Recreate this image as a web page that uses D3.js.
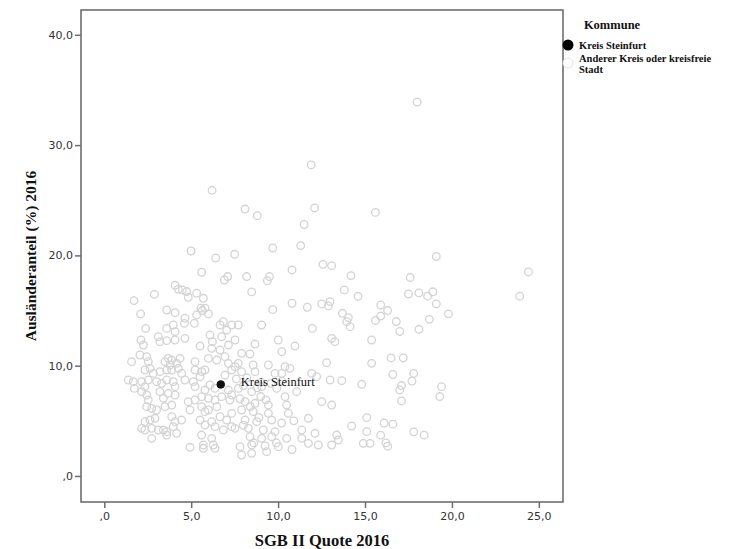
<!DOCTYPE html>
<html><head><meta charset="utf-8">
<script src="https://cdn.jsdelivr.net/npm/d3@7/dist/d3.min.js"></script>
<style>body{margin:0;background:#fff;} svg{display:block;}</style>
</head><body>
<svg id="chart" width="737" height="549"></svg>
<script>
const xTickValues = [0, 5, 10, 15, 20, 25];
const xTickLabels = [",0", "5,0", "10,0", "15,0", "20,0", "25,0"];
const yTickValues = [0, 10, 20, 30, 40];
const yTickLabels = [",0", "10,0", "20,0", "30,0", "40,0"];
const categories = ["Kreis Steinfurt", "Anderer Kreis oder kreisfreie Stadt"];
const steinfurtX = [6.7];
const steinfurtY = [8.3];
const otherX = [
18.0,11.9,6.2,8.1,8.8,12.1,15.6,11.5,
19.1,24.4,17.6,23.9,17.5,18.1,18.6,18.9,19.1,19.8,18.7,18.1,15.9,16.3,15.9,15.6,16.8,17.0,16.5,17.2,16.6,17.8,17.7,17.1,17.0,17.1,19.4,19.3,16.1,16.6,15.9,16.2,16.3,17.8,18.4,
9.69,11.30,10.80,12.58,13.08,14.19,8.19,9.50,9.38,8.48,13.81,14.60,9.69,10.80,11.68,12.51,12.99,12.89,13.70,14.04,
4.99,6.41,7.5,5.60,7.10,6.91,4.07,4.26,4.49,4.74,5.31,4.83,5.70,2.88,1.71,3.59,4.07,5.56,5.79,5.64,5.99,2.09,5.31,4.64,
2.38,3.59,3.97,4.07,4.61,5.18,6.66,6.85,7.04,7.33,
2.11,2.25,3.11,3.20,3.59,4.07,4.64,5.51,6.08,6.22,6.75,6.18,6.66,7.14,7.52,
1.57,2.05,2.44,2.53,3.49,3.68,3.88,3.78,4.16,4.36,5.22,5.99,6.47,6.94,7.14,
2.34,2.63,2.82,3.20,3.59,3.88,4.26,4.45,5.22,5.60,5.51,5.79,6.94,7.33,7.52,
1.38,1.67,1.73,2.15,2.34,2.53,3.01,3.30,3.59,3.97,4.07,4.64,5.12,5.22,5.79,6.08,6.37,7.14,7.33,
2.15,2.44,2.53,3.20,3.40,3.68,4.07,4.83,5.22,5.60,5.99,6.37,6.75,7.23,
2.44,2.73,3.01,3.49,3.88,4.93,5.60,5.79,5.99,6.47,6.66,7.33,5.51,6.18,7.04,
2.34,2.63,2.92,3.88,4.07,3.97,4.45,2.15,2.34,2.73,3.11,3.40,3.59,4.16,5.79,6.37,6.85,7.33,
2.73,3.59,5.60,6.18,6.27,5.70,4.93,5.70,6.37,
7.71,9.05,11.97,13.95,14.14,13.08,13.27,10.97,10.01,10.21,8.67,8.38,7.90,7.71,8.57,9.44,10.40,10.68,12.79,15.38,15.38,
7.90,8.67,9.82,10.21,12.99,13.66,14.81,11.93,12.22,7.71,8.48,9.05,9.92,10.40,11.07,
8.10,8.67,9.44,10.49,12.51,13.08,7.90,8.57,9.44,10.59,11.74,14.23,15.10,8.10,8.77,9.63,
7.52,8.29,9.15,9.82,11.36,12.12,13.37,15.10,8.38,9.05,9.63,10.49,11.36,11.74,12.31,13.08,13.47,14.90,15.29,
7.81,8.48,9.25,10.01,7.90,8.48,9.34,
9.0,9.6,10.2,7.6,8.2,8.0,8.8,7.8,8.4,9.0,9.3,8.9,8.0,8.6,9.9,10.8,10.2,10.9
];
const otherY = [
33.9,28.2,25.9,24.2,23.6,24.3,23.9,22.8,
19.9,18.5,18.0,16.3,16.5,16.6,16.3,16.7,15.6,14.7,14.2,13.3,15.5,15.0,14.5,14.1,14.0,13.1,10.7,10.7,9.2,9.3,8.6,8.2,7.8,6.8,8.1,7.2,4.8,4.7,3.7,3.0,2.7,4.0,3.7,
20.67,20.89,18.68,19.19,19.07,18.17,18.08,18.08,17.71,16.69,16.87,16.29,15.08,15.66,15.30,15.60,15.81,15.42,14.75,14.36,
20.40,19.77,20.1,18.47,18.08,17.77,17.29,16.93,16.87,16.72,16.57,16.20,16.11,16.47,15.90,15.05,14.81,15.21,15.21,15.0,14.69,14.69,14.60,14.30,
13.38,13.38,13.69,13.08,13.84,13.84,13.69,13.99,13.23,13.69,
12.33,11.87,12.63,12.18,12.27,12.33,12.48,11.78,12.78,12.18,12.63,11.57,11.42,11.87,12.33,
10.36,10.97,10.82,10.36,10.36,10.66,10.51,10.06,10.21,10.66,10.36,10.66,10.51,10.82,10.21,
9.61,9.76,9.30,9.46,9.61,9.61,9.76,9.30,9.61,9.46,9.00,9.61,9.15,9.61,9.91,
8.70,8.55,7.94,8.55,8.10,8.70,8.55,8.40,8.70,8.55,8.10,8.70,8.55,8.10,7.79,8.25,7.94,7.79,7.34,
7.64,7.34,6.89,7.64,7.04,7.49,7.34,6.74,6.89,7.19,7.04,6.89,7.19,6.89,
6.28,6.13,5.98,6.28,6.43,5.98,6.28,5.83,5.98,6.28,5.38,5.68,5.07,4.92,5.07,
4.92,5.07,5.23,5.38,4.92,4.47,5.07,4.32,4.17,4.32,4.17,4.17,4.02,3.87,4.62,4.47,4.17,4.47,
3.41,3.71,3.71,3.41,2.81,2.81,2.60,2.51,2.51,
13.69,13.69,13.38,13.99,13.54,12.48,12.18,11.78,12.33,11.27,11.96,11.06,11.12,10.21,10.06,10.06,9.91,9.76,10.27,12.33,10.21,
9.46,9.46,9.30,9.30,8.70,8.64,8.31,9.30,9.00,7.94,7.64,8.10,7.94,7.19,7.64,
6.74,6.59,6.43,6.43,6.74,6.43,5.98,5.83,5.68,5.68,5.23,4.53,5.29,5.07,4.92,5.07,
4.32,4.32,4.17,4.02,4.17,3.87,3.71,4.02,3.56,3.41,3.56,3.41,3.41,2.96,2.81,2.81,3.26,2.96,2.96,
2.66,2.81,2.72,2.66,1.90,2.05,2.20,
8.5,8.4,8.6,8.8,8.9,8.2,8.0,7.0,6.3,7.2,6.9,5.3,4.6,3.0,3.0,2.4,4.8,5.0
];

const svg = d3.select("#chart");
const L = 81, R = 563, T = 10, B = 502;
const x = d3.scaleLinear().domain([-1.34, 26.39]).range([L, R]);
const y = d3.scaleLinear().domain([-2.36, 42.25]).range([B, T]);
const axisColor = "#6e6e6e";
const serif = "'Liberation Serif', 'Times New Roman', serif";
const sans = "'DejaVu Sans', sans-serif";

// points
const others = otherX.map((v, i) => ({x: v, y: otherY[i]}));
svg.append("g").selectAll("circle").data(others).join("circle")
  .attr("cx", d => x(d.x)).attr("cy", d => y(d.y)).attr("r", 3.8)
  .attr("fill", "none").attr("stroke", "#d3d3d3").attr("stroke-width", 1.3);

svg.append("g").selectAll("circle").data(steinfurtX.map((v,i)=>({x:v,y:steinfurtY[i]}))).join("circle")
  .attr("cx", d => x(d.x)).attr("cy", d => y(d.y)).attr("r", 3.8)
  .attr("fill", "#111").attr("stroke", "#111");

svg.append("text").attr("x", x(steinfurtX[0]) + 20).attr("y", y(steinfurtY[0]) + 2)
  .attr("font-family", serif).attr("font-size", 12.5).attr("fill", "#111")
  .text(categories[0]);

// frame
svg.append("rect").attr("x", L).attr("y", T).attr("width", R - L).attr("height", B - L + L - T)
  .attr("fill", "none").attr("stroke", axisColor).attr("stroke-width", 1.6);

// axes
const xAxis = d3.axisBottom(x).tickValues(xTickValues).tickSize(6).tickPadding(4)
  .tickFormat((d, i) => xTickLabels[i]);
const gx = svg.append("g").attr("transform", `translate(0,${B})`).call(xAxis);
gx.select(".domain").remove();
gx.selectAll("line").attr("stroke", axisColor).attr("stroke-width", 1.5);
gx.selectAll("text").attr("font-family", sans).attr("font-size", 11).attr("fill", "#333");

const yAxis = d3.axisLeft(y).tickValues(yTickValues).tickSize(6).tickPadding(2)
  .tickFormat((d, i) => yTickLabels[i]);
const gy = svg.append("g").attr("transform", `translate(${L},0)`).call(yAxis);
gy.select(".domain").remove();
gy.selectAll("line").attr("stroke", axisColor).attr("stroke-width", 1.5);
gy.selectAll("text").attr("font-family", sans).attr("font-size", 11).attr("fill", "#333");

// axis titles
svg.append("text").attr("x", (L + R) / 2).attr("y", 546).attr("text-anchor", "middle")
  .attr("font-family", serif).attr("font-weight", "bold").attr("font-size", 16.5).attr("fill", "#111")
  .text("SGB II Quote 2016");
svg.append("text").attr("transform", `translate(36,${(T + B) / 2}) rotate(-90)`).attr("text-anchor", "middle")
  .attr("font-family", serif).attr("font-weight", "bold").attr("font-size", 15.5).attr("fill", "#111")
  .text("Ausländeranteil (%) 2016");

// legend
svg.append("text").attr("x", 612).attr("y", 29).attr("text-anchor", "middle")
  .attr("font-family", serif).attr("font-weight", "bold").attr("font-size", 12.5).attr("fill", "#111")
  .text("Kommune");
svg.append("circle").attr("cx", 568).attr("cy", 45).attr("r", 5.5).attr("fill", "#000");
svg.append("text").attr("x", 579).attr("y", 48.5)
  .attr("font-family", serif).attr("font-weight", "bold").attr("font-size", 10.5).attr("fill", "#111")
  .text(categories[0]);
svg.append("circle").attr("cx", 568).attr("cy", 63).attr("r", 5).attr("fill", "#fff")
  .attr("stroke", "#e2e2e2").attr("stroke-width", 1);
const lt = svg.append("text").attr("font-family", serif).attr("font-weight", "bold")
  .attr("font-size", 10.5).attr("fill", "#111");
lt.append("tspan").attr("x", 579).attr("y", 61.5).text("Anderer Kreis oder kreisfreie");
lt.append("tspan").attr("x", 579).attr("y", 73).text("Stadt");
</script>
</body></html>
